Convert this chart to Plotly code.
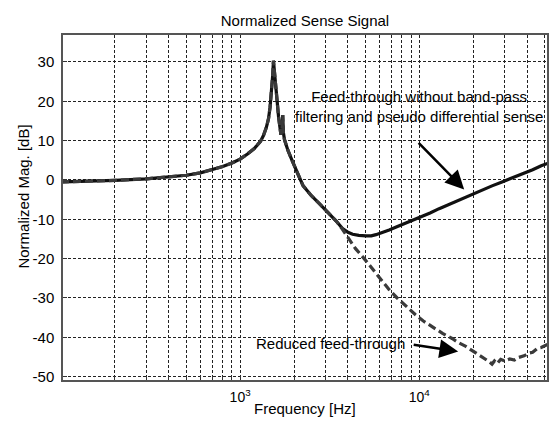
import numpy as np
import plotly.graph_objects as go

# ---- data ----
# shared part of both responses (they overlap up to ~3.7 kHz)
freq_common = [100, 150, 200, 300, 400, 500, 600, 700, 800, 900, 1000, 1100, 1200,
               1300, 1350, 1400, 1440, 1470, 1500, 1520, 1535, 1550, 1570, 1600,
               1640, 1690, 1715, 1730, 1745, 1770, 1850, 1950, 2050, 2150, 2250,
               2500, 2770, 3150, 3450]
mag_common = [-0.5, -0.3, -0.1, 0.3, 0.7, 1.2, 1.8, 2.6, 3.4, 4.3, 5.3, 6.6, 8.0,
              9.8, 11.3, 13.3, 15.5, 18.5, 22.5, 26.5, 30.3, 28.0, 24.5, 21.0,
              16.0, 11.5, 13.0, 16.5, 12.0, 10.2, 7.5, 5.0, 2.5, 0.5, -1.5,
              -4.0, -6.0, -8.5, -10.5]

# feed-through without band-pass filtering (solid)
freq_direct_tail = [3720, 4000, 4250, 4600, 5040, 5400, 5736, 6200, 6800, 7500, 8420,
                    9300, 10350, 11500, 12920, 15000, 17450, 20000, 22540, 25500,
                    29000, 33000, 37800, 43000, 48000, 52000]
mag_direct_tail = [-12.3, -13.3, -13.8, -14.1, -14.2, -14.2, -13.9, -13.4, -12.7,
                   -11.9, -11.0, -10.1, -9.3, -8.4, -7.3, -6.0, -4.7, -3.5, -2.6,
                   -1.5, -0.5, 0.5, 1.5, 2.6, 3.6, 4.2]

# reduced feed-through (dashed)
freq_reduced_tail = [3720, 4000, 4400, 4930, 5500, 6200, 6800, 7530, 8500, 9500, 10500,
                     12000, 13500, 15270, 16500, 18200, 20000, 21700, 23000, 24600,
                     25500, 26300, 27200, 28500, 30000, 32000, 34000, 36000, 38500,
                     41000, 43000, 45700, 48000, 50500, 52000]
mag_reduced_tail = [-12.5, -14.6, -17.4, -20.0, -22.8, -25.8, -27.9, -30.0, -32.3,
                    -34.2, -35.8, -37.6, -39.0, -40.3, -41.3, -42.3, -43.5, -44.5,
                    -45.3, -46.2, -46.8, -46.0, -46.7, -45.6, -46.0, -45.5, -45.8,
                    -45.1, -44.7, -44.0, -43.8, -42.8, -42.6, -42.0, -41.8]

x_grid_vals = [200, 300, 400, 500, 600, 700, 800, 900, 1000, 2000, 3000, 4000, 5000,
               6000, 7000, 8000, 9000, 10000, 20000, 30000, 40000, 50000]
x_tick_labels = {1000: "10<sup>3</sup>", 10000: "10<sup>4</sup>"}
y_tick_vals = [-50, -40, -30, -20, -10, 0, 10, 20, 30]
y_tick_text = ["-50", "-40", "-30", "-20", "-10", "0", "10", "20", "30"]

title_text = "Normalized Sense Signal"
x_title = "Frequency [Hz]"
y_title = "Normalized Mag. [dB]"
note_direct = "Feed-through without band-pass<br>filtering and pseudo differential sense"
note_reduced = "Reduced feed-through"

FONT = "Liberation Sans, Arial, sans-serif"

fig = go.Figure()
fig.add_trace(go.Scatter(
    x=freq_common + freq_direct_tail, y=mag_common + mag_direct_tail,
    mode="lines", line=dict(color="#111111", width=3.2), showlegend=False))
fig.add_trace(go.Scatter(
    x=freq_common + freq_reduced_tail, y=mag_common + mag_reduced_tail,
    mode="lines", line=dict(color="#3a3a3a", width=3.2, dash="8px,4px"),
    showlegend=False))

fig.update_layout(
    width=556, height=423,
    margin=dict(l=63, r=9, t=35, b=43),
    paper_bgcolor="white", plot_bgcolor="white",
    font=dict(family=FONT, size=15, color="black"),
    title=dict(text=title_text, font=dict(size=15), x=0.5, xref="paper",
               xanchor="center", y=1 - 21 / 423, yref="container", yanchor="middle"),
    xaxis=dict(type="log", range=[np.log10(102.6), np.log10(51700)],
               tickvals=x_grid_vals,
               ticktext=[x_tick_labels.get(v, "") for v in x_grid_vals],
               tickfont=dict(size=14), ticklabelstandoff=3,
               showgrid=True, gridcolor="#222222", gridwidth=1, griddash="3px,2px",
               showline=True, linecolor="#555555", linewidth=1.5, mirror=True,
               ticks="inside", ticklen=4, tickcolor="#333333",
               zeroline=False, automargin=False),
    yaxis=dict(range=[-50.85, 36.85], tickvals=y_tick_vals, ticktext=y_tick_text,
               tickfont=dict(size=15),
               showgrid=True, gridcolor="#222222", gridwidth=1, griddash="3px,2px",
               showline=True, linecolor="#555555", linewidth=1.5, mirror=True,
               ticks="inside", ticklen=4, tickcolor="#333333",
               zeroline=False, ticklabelstandoff=4, automargin=False),
)

fig.add_annotation(text=x_title, xref="paper", yref="paper", x=0.5, y=-0.084,
                   xanchor="center", yanchor="middle", showarrow=False,
                   font=dict(size=15))
fig.add_annotation(text=y_title, xref="paper", yref="paper", x=-0.081, y=0.531,
                   xanchor="center", yanchor="middle", textangle=-90,
                   showarrow=False, font=dict(size=15))

# text labels
fig.add_annotation(text=note_direct, x=4.0, y=18.6, xref="x", yref="y",
                   showarrow=False, font=dict(size=15), align="center",
                   xanchor="center", yanchor="middle")
fig.add_annotation(text=note_reduced, x=np.log10(3190), y=-41.5, xref="x", yref="y",
                   showarrow=False, font=dict(size=15),
                   xanchor="center", yanchor="middle")
# arrows
fig.add_annotation(text="", x=4.251, y=-2.4, xref="x", yref="y",
                   ax=-47, ay=-48, showarrow=True, arrowhead=2, arrowsize=1.5,
                   arrowwidth=2.5, arrowcolor="black")
fig.add_annotation(text="", x=4.2175, y=-43.6, xref="x", yref="y",
                   ax=-46, ay=-7, showarrow=True, arrowhead=2, arrowsize=1.5,
                   arrowwidth=2.5, arrowcolor="black")

fig.write_html("out.html", config={"displayModeBar": False},
               post_script="document.body.style.margin='0';")
